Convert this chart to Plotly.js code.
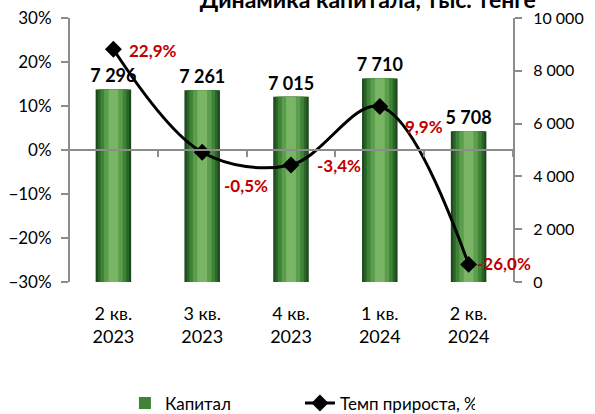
<!DOCTYPE html>
<html>
<head>
<meta charset="utf-8">
<script src="https://cdn.plot.ly/plotly-3.0.1.min.js"></script>
<style>html,body{margin:0;padding:0;background:#fff}</style>
</head>
<body>
<div id="chart" style="width:595px;height:414px"></div>
<script>
const quarters = ["2 кв.<br>2023", "3 кв.<br>2023", "4 кв.<br>2023", "1 кв.<br>2024", "2 кв.<br>2024"];
const capital = [7296, 7261, 7015, 7710, 5708];
const growth = [0.229, -0.005, -0.034, 0.099, -0.260];

// pixel offsets of the red labels from their points
const labelShiftX = [14, 20, 24, 23, 6];
const labelShiftY = [-1, -33, -1, -20, 1];

const FONT = "Lato, 'Open Sans', sans-serif";
const AXIS_GREY = "#8c8c8c";

// fake the shaded bars: dark outer bar, lighter narrower ones on top
const shades = [
    {w: 0.40, c: "#1c4a1c"},
    {w: 0.35, c: "#2b6628"},
    {w: 0.29, c: "#3f8338"},
    {w: 0.21, c: "#5a9e4c"},
    {w: 0.11, c: "#7ab565"}
];

const traces = shades.map(function (s, i) {
    const t = {
        type: "bar",
        x: quarters,
        y: capital,
        xaxis: "x",
        yaxis: "y",
        width: s.w,
        marker: {color: s.c, line: {width: 0}},
        name: "Капитал",
        showlegend: i == 2,
        hoverinfo: "skip"
    };
    if (i == 0) {
        t.texttemplate = "%{y:,d}";
        t.textposition = "outside";
        t.constraintext = "none";
        t.textfont = {family: FONT, size: 18, weight: "bold", color: "#000"};
        t.cliponaxis = false;
    }
    return t;
});

traces.push({
    type: "scatter",
    x: quarters,
    y: growth,
    xaxis: "x2",
    yaxis: "y2",
    name: "Темп прироста, %",
    mode: "lines+markers",
    line: {color: "#000", width: 3, shape: "spline", smoothing: 1},
    marker: {symbol: "diamond", size: 13, color: "#000"},
    cliponaxis: false
});

function pct(v) {
    return (v * 100).toFixed(1).replace(".", ",") + "%";
}

const growthLabels = growth.map(function (v, i) {
    return {
        x: quarters[i], y: v, xref: "x2", yref: "y2",
        text: pct(v), showarrow: false,
        xanchor: "left", yanchor: "middle",
        xshift: labelShiftX[i], yshift: labelShiftY[i],
        font: {family: FONT, size: 17, weight: "bold", color: "#C00000"}
    };
});

const layout = {
    width: 595,
    height: 414,
    margin: {l: 69, r: 82, t: 18, b: 132, autoexpand: false},
    paper_bgcolor: "#fff",
    plot_bgcolor: "rgba(0,0,0,0)",
    separators: ", ",
    font: {family: FONT, size: 16, color: "#000"},
    title: {text: "Динамика капитала, тыс. тенге",
            font: {size: 23, weight: "bold", color: "#000"},
            x: 0.673, xanchor: "center", xref: "paper",
            y: 1, yref: "container", yanchor: "middle"},
    barmode: "overlay",
    showlegend: true,
    legend: {orientation: "h", x: 0.126, xanchor: "left",
             y: -0.46, yanchor: "middle", font: {size: 17},
             entrywidth: 130, traceorder: "normal"},
    annotations: growthLabels,
    xaxis: {type: "category", range: [-0.5, 4.5], showline: false, ticks: "",
            showgrid: false, zeroline: false, ticklabelstandoff: 19,
            tickfont: {size: 18}},
    xaxis2: {type: "category", overlaying: "x", anchor: "free", position: 0.5,
             range: [-0.5, 4.5], showline: true, linecolor: AXIS_GREY, linewidth: 2,
             ticks: "outside", tickson: "boundaries", ticklen: 6, tickwidth: 2,
             tickcolor: AXIS_GREY, showticklabels: false, showgrid: false, zeroline: false},
    yaxis: {side: "right", range: [0, 10000], dtick: 2000, tickformat: ",d",
            showline: true, linecolor: AXIS_GREY, linewidth: 2,
            ticks: "outside", ticklen: 7, tickwidth: 2, tickcolor: AXIS_GREY,
            showgrid: false, zeroline: false, ticklabelstandoff: 8},
    yaxis2: {overlaying: "y", side: "left", anchor: "free", position: 0,
             range: [-0.3, 0.3], dtick: 0.1, tickformat: ".0%",
             showline: true, linecolor: AXIS_GREY, linewidth: 2,
             ticks: "outside", ticklen: 7, tickwidth: 2, tickcolor: AXIS_GREY,
             tickfont: {size: 17},
             showgrid: false, zeroline: false, ticklabelstandoff: 6}
};

Plotly.newPlot("chart", traces, layout, {staticPlot: true});
</script>
</body>
</html>
